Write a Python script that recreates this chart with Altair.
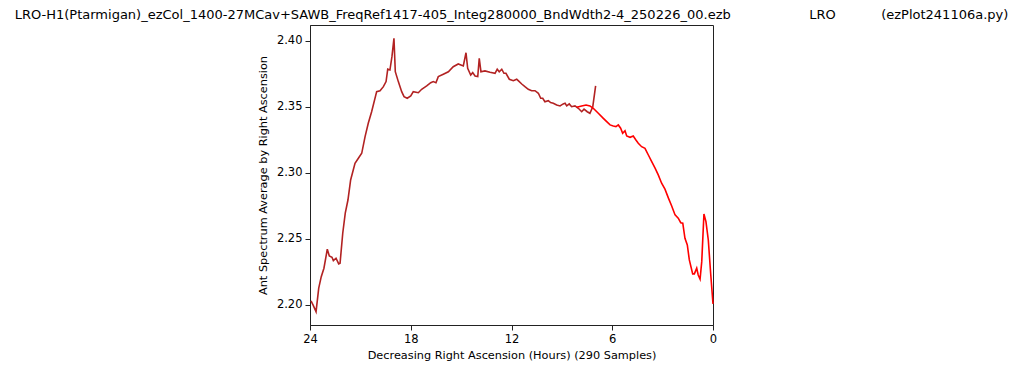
import altair as alt
import pandas as pd

# Series 1 (firebrick): hours of right ascension and antenna spectrum average
hours_a = [23.94, 23.82, 23.64, 23.48, 23.33, 23.17, 22.97, 22.85, 22.69, 22.61,
           22.45, 22.29, 22.21, 22.05, 21.90, 21.74, 21.58, 21.32, 21.12, 20.92,
           20.72, 20.53, 20.33, 20.03, 19.83, 19.63, 19.47, 19.37, 19.24, 19.12,
           19.00, 18.92, 18.74, 18.54, 18.40, 18.21, 18.00, 17.85, 17.55, 17.35,
           17.05, 16.81, 16.66, 16.50, 16.36, 16.06, 15.76, 15.47, 15.17, 14.87,
           14.71, 14.61, 14.43, 14.31, 14.17, 14.01, 13.92, 13.82, 13.58, 13.28,
           12.98, 12.85, 12.73, 12.58, 12.45, 12.33, 12.13, 11.89, 11.69, 11.60,
           11.39, 11.20, 11.00, 10.80, 10.60, 10.40, 10.26, 10.14, 10.01, 9.81,
           9.67, 9.51, 9.31, 9.11, 8.92, 8.81, 8.71, 8.56, 8.42, 8.22,
           8.02, 7.82, 7.68, 7.49, 7.33, 7.16, 6.99]
values_a = [2.2030, 2.2000, 2.1949, 2.2127, 2.2214, 2.2278, 2.2422, 2.2371, 2.2361, 2.2336,
            2.2354, 2.2311, 2.2316, 2.2543, 2.2695, 2.2795, 2.2947, 2.3073, 2.3111, 2.3149,
            2.3275, 2.3377, 2.3464, 2.3616, 2.3623, 2.3654, 2.3692, 2.3786, 2.3780, 2.3881,
            2.4020, 2.3767, 2.3692, 2.3616, 2.3578, 2.3566, 2.3583, 2.3616, 2.3608, 2.3634,
            2.3659, 2.3684, 2.3692, 2.3684, 2.3730, 2.3748, 2.3767, 2.3805, 2.3826, 2.3811,
            2.3911, 2.3793, 2.3742, 2.3760, 2.3735, 2.3730, 2.3869, 2.3767, 2.3773, 2.3763,
            2.3755, 2.3786, 2.3767, 2.3786, 2.3755, 2.3755, 2.3710, 2.3699, 2.3710, 2.3699,
            2.3674, 2.3654, 2.3634, 2.3623, 2.3623, 2.3604, 2.3566, 2.3566, 2.3540, 2.3548,
            2.3533, 2.3528, 2.3515, 2.3508, 2.3523, 2.3528, 2.3508, 2.3523, 2.3502, 2.3508,
            2.3490, 2.3464, 2.3483, 2.3464, 2.3452, 2.3502, 2.3659]

# Series 2 (red)
hours_b = [8.12, 7.82, 7.56, 7.33, 7.13, 6.83, 6.53, 6.33, 6.13, 5.94,
           5.78, 5.64, 5.50, 5.38, 5.24, 5.14, 4.94, 4.75, 4.59, 4.45,
           4.25, 4.05, 3.85, 3.65, 3.45, 3.26, 3.06, 2.86, 2.66, 2.46,
           2.26, 2.07, 1.92, 1.80, 1.67, 1.53, 1.41, 1.21, 1.11, 0.97,
           0.88, 0.77, 0.67, 0.54, 0.42, 0.28, 0.14, 0.00]
values_b = [2.3498, 2.3508, 2.3515, 2.3508, 2.3490, 2.3452, 2.3414, 2.3389, 2.3364, 2.3356,
            2.3351, 2.3364, 2.3339, 2.3301, 2.3320, 2.3280, 2.3270, 2.3280, 2.3250, 2.3225,
            2.3199, 2.3187, 2.3136, 2.3086, 2.3036, 2.2985, 2.2922, 2.2877, 2.2811, 2.2750,
            2.2682, 2.2657, 2.2623, 2.2619, 2.2505, 2.2455, 2.2341, 2.2235, 2.2235, 2.2278,
            2.2227, 2.2195, 2.2328, 2.2689, 2.2631, 2.2492, 2.2240, 2.2008]

x_ticks = [24, 18, 12, 6, 0]
y_ticks = [2.20, 2.25, 2.30, 2.35, 2.40]

title_text = ("LRO-H1(Ptarmigan)_ezCol_1400-27MCav+SAWB_FreqRef1417-405_Integ280000_BndWdth2-4_250226_00.ezb"
              + "\u00a0" * 19 + "LRO" + "\u00a0" * 11 + "(ezPlot241106a.py)")

df_a = pd.DataFrame({"h": hours_a, "v": values_a, "i": range(len(hours_a))})
df_b = pd.DataFrame({"h": hours_b, "v": values_b, "i": range(len(hours_b))})

x_enc = alt.X("h:Q",
              scale=alt.Scale(domain=[0, 24], reverse=True, nice=False, zero=False),
              axis=alt.Axis(values=x_ticks, title="Decreasing Right Ascension (Hours) (290 Samples)",
                            grid=False, format="d", labelFlush=False))
y_enc = alt.Y("v:Q",
              scale=alt.Scale(domain=[2.1848, 2.4121], nice=False, zero=False),
              axis=alt.Axis(values=y_ticks, title="Ant Spectrum Average by Right Ascension",
                            grid=False, format=".2f", labelFlush=False))

line_a = alt.Chart(df_a).mark_line(color="#b22222", strokeWidth=1.6).encode(
    x=x_enc, y=y_enc, order="i:Q")
line_b = alt.Chart(df_b).mark_line(color="#ff0000", strokeWidth=1.6).encode(
    x=x_enc, y=y_enc, order="i:Q")

chart = alt.layer(line_a, line_b).properties(
    width=403, height=300,
    autosize=alt.AutoSizeParams(type="none"),
    padding={"left": 302, "top": 17, "right": 300, "bottom": 37},
    title=alt.TitleParams(text=title_text, anchor="middle", font="DejaVu Sans",
                          fontSize=13, fontWeight="normal", color="black", offset=3),
).configure_view(stroke="#222", strokeWidth=1).configure_axis(
    labelFont="DejaVu Sans", titleFont="DejaVu Sans", labelFontSize=11.5, titleFontSize=11.3,
    titleFontWeight="normal", labelColor="black", titleColor="black",
    domainColor="#222", tickColor="#222", tickSize=5, labelPadding=3,
).configure_axisY(titlePadding=8).configure_axisX(titlePadding=5)

chart.save("out.html", embed_options={"renderer": "svg", "actions": False})
